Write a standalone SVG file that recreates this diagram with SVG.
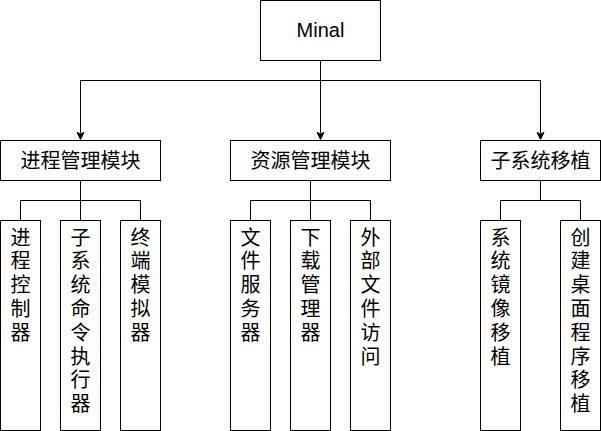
<svg xmlns="http://www.w3.org/2000/svg" width="601" height="431" viewBox="0 0 601 431">
<style>
.box{fill:#ffffff;stroke:#000000;stroke-width:1}
.ln{fill:none;stroke:#000000;stroke-width:1}
.ah{fill:#000000;stroke:#000000;stroke-width:1}
text{font-family:"Liberation Sans","Noto Sans CJK SC",sans-serif;font-size:20px;fill:#000000;text-anchor:middle}
</style>
<rect width="601" height="431" fill="#ffffff"/>
<g id="connectors">
<path class="ln" d="M320.5 60.5 V80.5 M80.5 80.5 H540.5 M80.5 80.5 V133.63 M320.5 80.5 V133.63 M540.5 80.5 V133.63"/>
<path class="ah" d="M80.5 139.38 L77 132.38 L80.5 134.13 L84 132.38 Z"/>
<path class="ah" d="M320.5 139.38 L317 132.38 L320.5 134.13 L324 132.38 Z"/>
<path class="ah" d="M540.5 139.38 L537 132.38 L540.5 134.13 L544 132.38 Z"/>
<path class="ln" d="M80.5 180.5 V220.5 M20.5 200.5 H140.5 M20.5 200.5 V220.5 M140.5 200.5 V220.5"/>
<path class="ln" d="M310.5 180.5 V220.5 M250.5 200.5 H370.5 M250.5 200.5 V220.5 M370.5 200.5 V220.5"/>
<path class="ln" d="M540.5 180.5 V200.5 M500.5 200.5 H580.5 M500.5 200.5 V220.5 M580.5 200.5 V220.5"/>
</g>
<g id="minal"><rect class="box" x="260.5" y="0.5" width="120" height="60"/><text x="320.5" y="37">Minal</text></g>
<g id="proc"><rect class="box" x="0.5" y="140.5" width="160" height="40"/><text x="80.5" y="167.5">进程管理模块</text></g>
<g id="res"><rect class="box" x="230.5" y="140.5" width="160" height="40"/><text x="310.5" y="167.5">资源管理模块</text></g>
<g id="sub"><rect class="box" x="480.5" y="140.5" width="120" height="40"/><text x="540.5" y="167.5">子系统移植</text></g>
<g id="p1"><rect class="box" x="0.5" y="220.5" width="40" height="210"/><text x="20.5" y="244.5"><tspan x="20.5">进</tspan><tspan x="20.5" dy="23.8">程</tspan><tspan x="20.5" dy="23.8">控</tspan><tspan x="20.5" dy="23.8">制</tspan><tspan x="20.5" dy="23.8">器</tspan></text></g>
<g id="p2"><rect class="box" x="60.5" y="220.5" width="40" height="210"/><text x="80.5" y="244.5"><tspan x="80.5">子</tspan><tspan x="80.5" dy="23.8">系</tspan><tspan x="80.5" dy="23.8">统</tspan><tspan x="80.5" dy="23.8">命</tspan><tspan x="80.5" dy="23.8">令</tspan><tspan x="80.5" dy="23.8">执</tspan><tspan x="80.5" dy="23.8">行</tspan><tspan x="80.5" dy="23.8">器</tspan></text></g>
<g id="p3"><rect class="box" x="120.5" y="220.5" width="40" height="210"/><text x="140.5" y="244.5"><tspan x="140.5">终</tspan><tspan x="140.5" dy="23.8">端</tspan><tspan x="140.5" dy="23.8">模</tspan><tspan x="140.5" dy="23.8">拟</tspan><tspan x="140.5" dy="23.8">器</tspan></text></g>
<g id="r1"><rect class="box" x="230.5" y="220.5" width="40" height="210"/><text x="250.5" y="244.5"><tspan x="250.5">文</tspan><tspan x="250.5" dy="23.8">件</tspan><tspan x="250.5" dy="23.8">服</tspan><tspan x="250.5" dy="23.8">务</tspan><tspan x="250.5" dy="23.8">器</tspan></text></g>
<g id="r2"><rect class="box" x="290.5" y="220.5" width="40" height="210"/><text x="310.5" y="244.5"><tspan x="310.5">下</tspan><tspan x="310.5" dy="23.8">载</tspan><tspan x="310.5" dy="23.8">管</tspan><tspan x="310.5" dy="23.8">理</tspan><tspan x="310.5" dy="23.8">器</tspan></text></g>
<g id="r3"><rect class="box" x="350.5" y="220.5" width="40" height="210"/><text x="370.5" y="244.5"><tspan x="370.5">外</tspan><tspan x="370.5" dy="23.8">部</tspan><tspan x="370.5" dy="23.8">文</tspan><tspan x="370.5" dy="23.8">件</tspan><tspan x="370.5" dy="23.8">访</tspan><tspan x="370.5" dy="23.8">问</tspan></text></g>
<g id="s1"><rect class="box" x="480.5" y="220.5" width="40" height="210"/><text x="500.5" y="244.5"><tspan x="500.5">系</tspan><tspan x="500.5" dy="23.8">统</tspan><tspan x="500.5" dy="23.8">镜</tspan><tspan x="500.5" dy="23.8">像</tspan><tspan x="500.5" dy="23.8">移</tspan><tspan x="500.5" dy="23.8">植</tspan></text></g>
<g id="s2"><rect class="box" x="560.5" y="220.5" width="40" height="210"/><text x="580.5" y="244.5"><tspan x="580.5">创</tspan><tspan x="580.5" dy="23.8">建</tspan><tspan x="580.5" dy="23.8">桌</tspan><tspan x="580.5" dy="23.8">面</tspan><tspan x="580.5" dy="23.8">程</tspan><tspan x="580.5" dy="23.8">序</tspan><tspan x="580.5" dy="23.8">移</tspan><tspan x="580.5" dy="23.8">植</tspan></text></g>
</svg>
